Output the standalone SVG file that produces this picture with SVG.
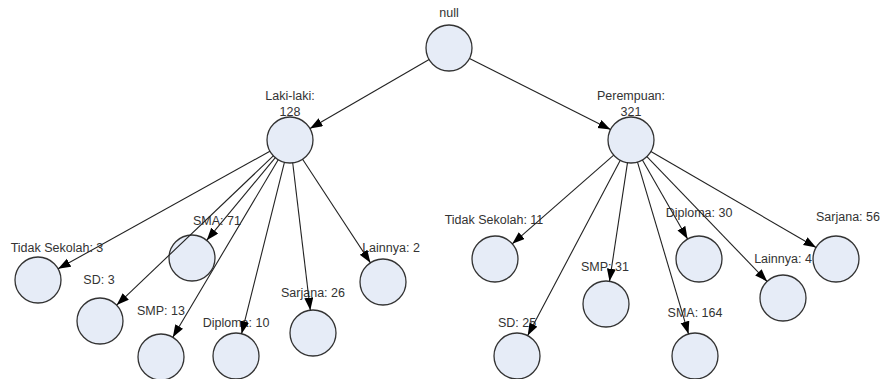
<svg xmlns="http://www.w3.org/2000/svg" width="883" height="379" viewBox="0 0 883 379">
<style>
.n{fill:#e6ecf7;stroke:#333;stroke-width:1.3}
.t{font-family:"Liberation Sans",Arial,sans-serif;font-size:12.5px;fill:#333;text-anchor:middle}
.e{stroke:#222;stroke-width:1.1;fill:none;marker-end:url(#a)}
</style>
<defs>
<marker id="a" markerUnits="userSpaceOnUse" markerWidth="14" markerHeight="10" refX="12.5" refY="4.5" orient="auto">
<path d="M0,0 L12.5,4.5 L0,9 z" fill="#000"/>
</marker>
</defs>
<rect width="883" height="379" fill="#fff"/>
<g id="nodes">
<g id="n-null"><circle class="n" cx="449" cy="48" r="23"/><text class="t" x="449" y="17">null</text></g>
<g id="n-laki"><circle class="n" cx="290" cy="140" r="23"/><text class="t" x="290" y="100">Laki-laki:</text><text class="t" x="290" y="116">128</text></g>
<g id="n-perempuan"><circle class="n" cx="631" cy="140" r="23"/><text class="t" x="631" y="100">Perempuan:</text><text class="t" x="631" y="116">321</text></g>
<g id="n-l-tidak"><circle class="n" cx="38" cy="280" r="23"/><text class="t" x="57" y="252">Tidak Sekolah: 3</text></g>
<g id="n-l-sd"><circle class="n" cx="100" cy="321" r="23"/><text class="t" x="99" y="284">SD: 3</text></g>
<g id="n-l-smp"><circle class="n" cx="161" cy="357" r="23"/><text class="t" x="161" y="315">SMP: 13</text></g>
<g id="n-l-sma"><circle class="n" cx="192" cy="258" r="23"/><text class="t" x="217" y="225">SMA: 71</text></g>
<g id="n-l-diploma"><circle class="n" cx="236" cy="356" r="23"/><text class="t" x="236" y="327">Diploma: 10</text></g>
<g id="n-l-sarjana"><circle class="n" cx="313" cy="333" r="23"/><text class="t" x="313" y="297">Sarjana: 26</text></g>
<g id="n-l-lainnya"><circle class="n" cx="383" cy="282" r="23"/><text class="t" x="391" y="252">Lainnya: 2</text></g>
<g id="n-p-tidak"><circle class="n" cx="495" cy="259" r="23"/><text class="t" x="494" y="224">Tidak Sekolah: 11</text></g>
<g id="n-p-sd"><circle class="n" cx="517" cy="356" r="23"/><text class="t" x="517" y="327">SD: 25</text></g>
<g id="n-p-smp"><circle class="n" cx="606" cy="304" r="23"/><text class="t" x="605" y="271">SMP: 31</text></g>
<g id="n-p-sma"><circle class="n" cx="695" cy="356" r="23"/><text class="t" x="695" y="317">SMA: 164</text></g>
<g id="n-p-diploma"><circle class="n" cx="699" cy="259" r="23"/><text class="t" x="699" y="217">Diploma: 30</text></g>
<g id="n-p-lainnya"><circle class="n" cx="783" cy="298" r="23"/><text class="t" x="783" y="263">Lainnya: 4</text></g>
<g id="n-p-sarjana"><circle class="n" cx="836" cy="259" r="23"/><text class="t" x="848" y="221">Sarjana: 56</text></g>
</g>
<g id="connectors">
<line class="e" x1="429.1" y1="59.5" x2="310.0" y2="128.5"/>
<line class="e" x1="469.5" y1="58.4" x2="610.5" y2="129.6"/>
<line class="e" x1="269.9" y1="151.2" x2="58.1" y2="268.8"/>
<line class="e" x1="273.3" y1="155.9" x2="116.7" y2="305.1"/>
<line class="e" x1="278.2" y1="159.8" x2="172.8" y2="337.2"/>
<line class="e" x1="275.3" y1="157.7" x2="206.7" y2="240.3"/>
<line class="e" x1="284.4" y1="162.3" x2="241.6" y2="333.7"/>
<line class="e" x1="292.7" y1="162.8" x2="310.3" y2="310.2"/>
<line class="e" x1="302.6" y1="159.3" x2="370.4" y2="262.7"/>
<line class="e" x1="613.7" y1="155.2" x2="512.3" y2="243.8"/>
<line class="e" x1="620.3" y1="160.3" x2="527.7" y2="335.6"/>
<line class="e" x1="627.5" y1="162.7" x2="609.5" y2="281.3"/>
<line class="e" x1="637.5" y1="162.1" x2="688.5" y2="333.9"/>
<line class="e" x1="642.4" y1="160.0" x2="687.6" y2="239.0"/>
<line class="e" x1="646.9" y1="156.6" x2="767.1" y2="281.4"/>
<line class="e" x1="650.9" y1="151.5" x2="816.1" y2="247.5"/>
</g>
</svg>
